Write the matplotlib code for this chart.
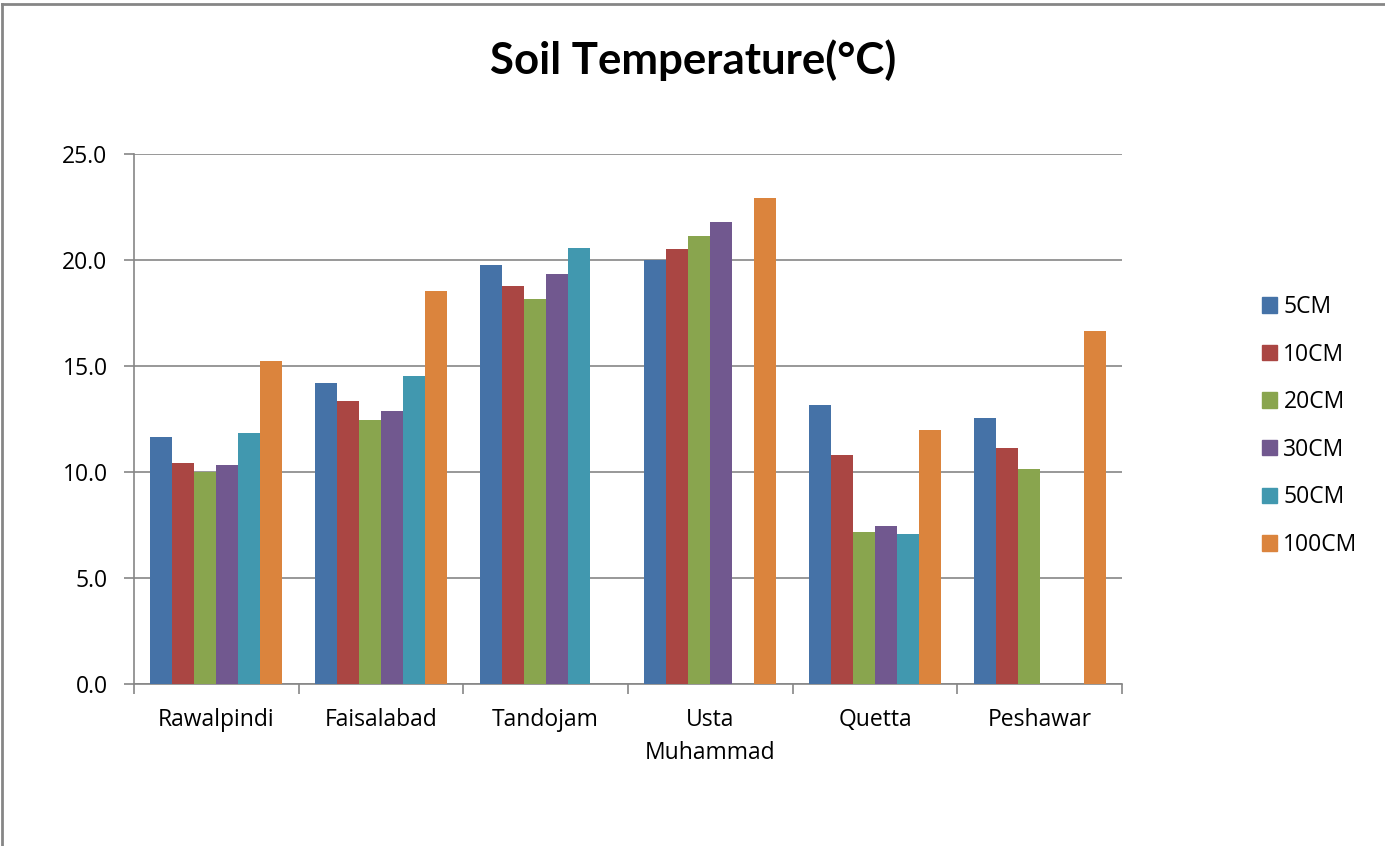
import numpy as np
import matplotlib
matplotlib.use("Agg")
import matplotlib.pyplot as plt
from matplotlib.lines import Line2D
from matplotlib.patches import Rectangle

categories = ["Rawalpindi", "Faisalabad", "Tandojam", "Usta\nMuhammad", "Quetta", "Peshawar"]
series_names = ["5CM", "10CM", "20CM", "30CM", "50CM", "100CM"]
v5 = [11.65, 14.2, 19.76, 20.0, 13.16, 12.55]
v10 = [10.42, 13.35, 18.77, 20.52, 10.8, 11.13]
v20 = [10.0, 12.45, 18.16, 21.13, 7.17, 10.14]
v30 = [10.33, 12.88, 19.34, 21.79, 7.45, np.nan]
v50 = [11.84, 14.53, 20.57, np.nan, 7.08, np.nan]
v100 = [15.24, 18.54, np.nan, 22.92, 11.98, 16.65]
series_values = [v5, v10, v20, v30, v50, v100]
colors = ["#4572A7", "#AA4643", "#89A54E", "#71588F", "#4198AF", "#DB843D"]
yticks = [0.0, 5.0, 10.0, 15.0, 20.0, 25.0]

plt.rcParams['font.family'] = ['Open Sans', 'DejaVu Sans']

fig = plt.figure(figsize=(13.85, 8.46), dpi=100)
ax = fig.add_axes([134/1385, 1 - 684/846, (1122-134)/1385, (684-154)/846])

n = len(series_names)
bw = 0.8 / n
x = np.arange(len(categories))
for i, (name, vals, c) in enumerate(zip(series_names, series_values, colors)):
    ax.bar(x - 0.4 + bw * (i + 0.5), vals, width=bw, color=c, label=name, zorder=3)

ax.set_xlim(-0.5, len(categories) - 0.5)
ax.set_ylim(0, 25)
ax.set_yticks(yticks)
ax.set_yticklabels([f"{t:.1f}" for t in yticks], fontsize=16.5)
ax.yaxis.grid(True, color="#868686", linewidth=1.2, zorder=0)
ax.set_xticks(x)
ax.set_xticklabels(categories, fontsize=16.5, linespacing=1.5, va='top')
ax.tick_params(axis='x', length=0, pad=17)
ax.set_xticks(np.arange(-0.5, len(categories)), minor=True)
ax.tick_params(axis='x', which='minor', length=7, width=1.2, color="#868686", direction='out')
ax.tick_params(axis='y', length=7, width=1.2, color="#868686", direction='out', pad=12)
for s in ['top', 'right']:
    ax.spines[s].set_visible(False)
for s in ['left', 'bottom']:
    ax.spines[s].set_color("#868686")
    ax.spines[s].set_linewidth(1.2)

fig.text(693/1385, 1 - 60/846, "Soil Temperature(°C)", ha='center', va='center',
         fontsize=31.5, fontweight='bold', family=['Lato', 'DejaVu Sans'])

handles = [Rectangle((0, 0), 1, 1, color=c) for c in colors]
leg = fig.legend(handles, series_names, loc='center left', bbox_to_anchor=(1241/1385, 1 - 426/846),
                 frameon=False, fontsize=16.5, handlelength=0.65, handleheight=0.65,
                 handletextpad=0.3, labelspacing=1.03)

# outer border (left and top visible)
fig.add_artist(Line2D([2/1385, 2/1385], [0, 1 - 4/846], transform=fig.transFigure, color="#868686", linewidth=2))
fig.add_artist(Line2D([2/1385, 1], [1 - 4/846, 1 - 4/846], transform=fig.transFigure, color="#868686", linewidth=2))

fig.savefig("out.png", dpi=100)
